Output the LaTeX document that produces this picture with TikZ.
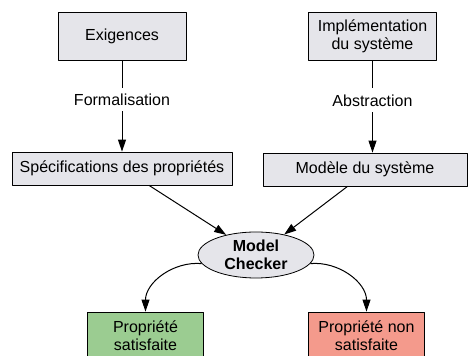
\documentclass[tikz,border=0pt]{standalone}
\usepackage{fontspec}
\setmainfont{Liberation Sans}
\usetikzlibrary{shapes.geometric, arrows.meta, positioning}
\definecolor{boxgray}{RGB}{229,229,234}
\definecolor{okgreen}{RGB}{155,204,145}
\definecolor{kored}{RGB}{244,154,140}
\begin{document}
\begin{tikzpicture}[
  x=1pt, y=1pt,
  font=\fontsize{16}{18}\selectfont,
  line join=round,
  >={Triangle[length=12pt, width=8pt]},
  flow/.style={->, line width=1pt, draw=black},
  box/.style={
    draw=black, line width=0.8pt, fill=boxgray,
    align=center, inner sep=0pt
  },
  src/.style={box, minimum width=128pt, minimum height=48pt},
  mid/.style={box, minimum height=33pt},
  res/.style={box, minimum width=116pt, minimum height=48pt},
  lbl/.style={fill=white, inner sep=6pt}
]
\useasboundingbox (0,0) rectangle (472,356);
\node[src] (exig) at (122,320)      {Exigences};
\node[src] (impl) at (372.5,319.5)  {Implémentation\\du système};
\node[mid, minimum width=220pt] (spec) at (122,187.5)
  {Spécifications des propriétés};
\node[mid, minimum width=204pt] (modele) at (365,186.5)
  {Modèle du système};
\node[ellipse, draw=black, line width=0.8pt, fill=boxgray,
      minimum width=116pt, minimum height=46pt, inner sep=0pt,
      align=center, font=\fontsize{16}{18}\selectfont\bfseries] (mc) at (256,101)
  {Model\\Checker};
\node[res, fill=okgreen] (sat) at (145.5,20)   {Propriété\\satisfaite};
\node[res, fill=kored]   (unsat) at (366.5,20) {Propriété non\\satisfaite};
\draw[flow] (exig) -- node[lbl, pos=0.43] {Formalisation} (spec);
\draw[flow] (impl) -- node[lbl, pos=0.43] {Abstraction} (impl |- modele.north);
\draw[flow] (spec.-32) -- (mc.146);
\draw[flow] (modele.-136) -- (mc.36);
\draw[flow] (mc.189) to[out=175, in=90] (sat.north);
\draw[flow] (mc.-9) to[out=5, in=90] (unsat.north);
\end{tikzpicture}
\end{document}
